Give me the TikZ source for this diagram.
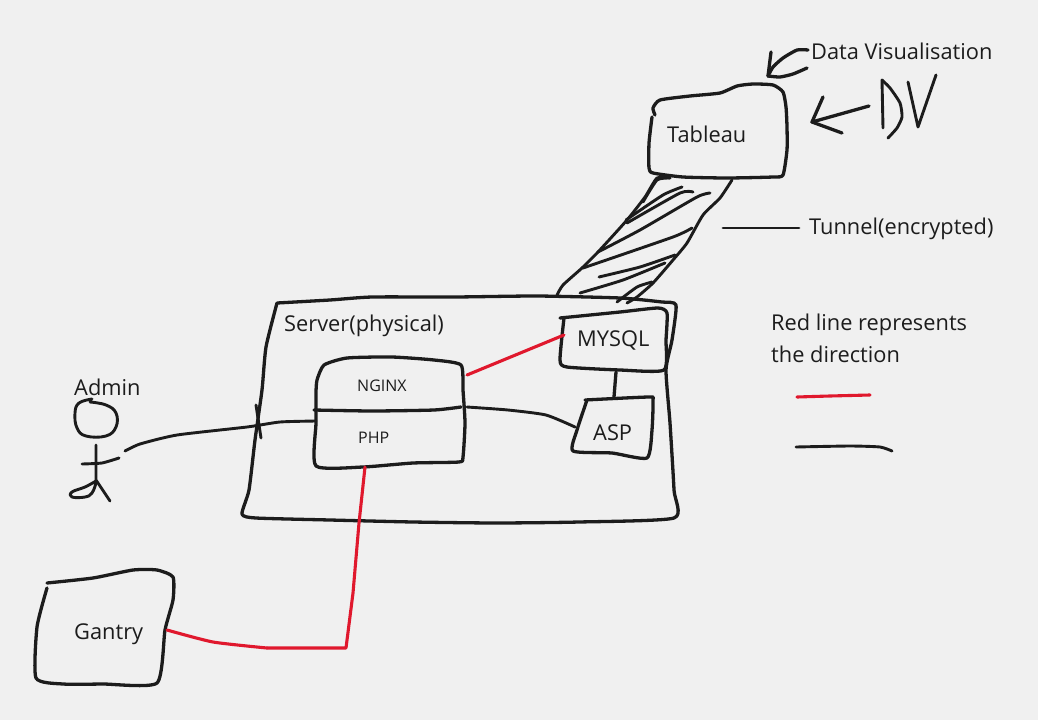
\documentclass[tikz,border=0pt]{standalone}
\usepackage{fontspec}
\setmainfont{Open Sans}
\definecolor{paper}{HTML}{F0F0F0}
\definecolor{ink}{HTML}{1C1C1C}
\definecolor{redink}{HTML}{E0182D}
\tikzset{
  pen/.style={draw=ink,line width=3.3pt,line cap=round,line join=round},
  thinpen/.style={draw=ink,line width=2.9pt,line cap=round,line join=round},
  redpen/.style={draw=redink,line width=3.1pt,line cap=round,line join=round},
  lab/.style={anchor=west,inner sep=0pt,text=ink,font=\fontsize{21.8}{24}\selectfont},
  smalllab/.style={anchor=west,inner sep=0pt,text=ink,font=\fontsize{16}{18}\selectfont},
  sm/.style={smooth,tension=0.35},
  round/.style={smooth,tension=0.7}
}
\begin{document}
\begin{tikzpicture}[x=1pt,y=-1pt]
\useasboundingbox[fill=paper] (0,0) rectangle (1038,720);
% connector end points
\coordinate (nginxE) at (467,375);
\coordinate (mysqlW) at (564,335);
\coordinate (nginxR) at (467,407);
\coordinate (aspW) at (575,427);
\coordinate (mysqlS) at (616,372);
\coordinate (aspN) at (614,397);
\coordinate (adminHand) at (125,451);
\coordinate (phpW) at (316,421);
\coordinate (phpS) at (365,467);
\coordinate (gantryE) at (167,630);
\coordinate (tunnelMark) at (723,228);
\coordinate (tunnelText) at (799,228);
\coordinate (dvTail) at (869,106);
\coordinate (dvTip) at (812,122);
\coordinate (visTail) at (808,50);
\coordinate (visTip) at (768,76);
% Tableau
\draw[pen] plot[sm] coordinates {(655,115) (653,108) (660,100) (690,96) (720,93) (737,86) (753,84) (773,85) (783,92) (786,107) (787,127) (787,150) (783,175) (773,177) (727,178) (683,177) (653,173) (649,168) (649,143) (652,117)};
\node[lab] (tableau) at (667,134) {Tableau};
% Data Visualisation arrow
\node[lab] (datavis) at (811,51) {Data Visualisation};
\draw[pen] plot[sm] coordinates {(visTail) (797,50) (783,58) (773,67) (visTip)};
\draw[pen] (771,52) -- (visTip);
\draw[pen] plot[sm] coordinates {(visTip) (780,77) (793,74) (807,68)};
% DV
\draw[pen] (dvTail) -- (dvTip);
\draw[pen] (823,97) -- (dvTip) -- (842,133);
\draw[thinpen] (882,80) -- (883,128);
\draw[thinpen] plot[sm] coordinates {(882,80) (890,88) (900,103) (902,117) (897,128) (888,138)};
\draw[thinpen] (908,82) -- (918,127) -- (936,75);
% Tunnel
\draw[thinpen] plot[sm] coordinates {(670,178) (657,178) (645,197) (627,220) (598,252) (582,268) (563,285) (557,295)};
\draw[thinpen] plot[sm] coordinates {(732,180) (720,198) (703,215) (687,243) (673,260) (653,283) (637,297) (627,303)};
\draw[thinpen] plot[sm] coordinates {(643,202) (657,180) (670,178)};
\draw[thinpen] plot[sm] coordinates {(682,187) (663,195) (626,220)};
\draw[thinpen] plot[sm] coordinates {(693,192) (680,193) (627,223)};
\draw[thinpen] plot[sm] coordinates {(710,193) (697,197) (640,230) (598,252)};
\draw[thinpen] plot[sm] coordinates {(692,228) (673,237) (583,268)};
\draw[thinpen] plot[sm] coordinates {(675,255) (640,267) (599,277)};
\draw[thinpen] plot[sm] coordinates {(652,282) (637,287) (617,302)};
\draw[thinpen] plot[sm] coordinates {(580,293) (623,280) (665,263)};
\draw[thinpen] (tunnelMark) -- (tunnelText);
\node[lab] (tunnel) at (809,229) {Tunnel(encrypted)};
% Server
\draw[pen] plot[sm] coordinates {(277,303) (330,300) (372,297) (455,297) (537,296) (620,298) (662,302) (676,305) (672,340) (666,370) (670,423) (674,490) (674,518) (579,522) (496,523) (413,522) (330,520) (256,518) (242,514) (249,490) (255,440) (262,390) (266,347) (277,303)};
\node[lab] (server) at (284,326) {Server(physical)};
% NGINX / PHP
\draw[pen] plot[sm] coordinates {(316,392) (317,380) (324,365) (347,358) (392,357) (434,360) (461,365) (463,390) (465,423) (463,457) (459,462) (413,463) (363,467) (316,466) (316,423) (316,392)};
\draw[pen] plot[sm] coordinates {(314,410) (372,411) (434,410) (461,407)};
\node[smalllab] (nginx) at (357,386) {NGINX};
\node[smalllab] (php) at (358,438) {PHP};
% MYSQL
\draw[pen] plot[sm] coordinates {(560,318) (620,312) (658,308) (667,313) (666,340) (664,370) (620,370) (567,367) (560,360) (564,318)};
\node[lab] (mysql) at (577,340) {MYSQL};
% ASP
\draw[pen] plot[sm] coordinates {(585,400) (649,397) (653,400) (652,430) (647,458) (612,453) (573,451) (577,430) (587,400)};
\node[lab] (asp) at (593,433) {ASP};
% connectors inside the server
\draw[redpen] (nginxE) -- (mysqlW);
\draw[pen] (mysqlS) -- (aspN);
\draw[thinpen] plot[sm] coordinates {(nginxR) (508,410) (546,415) (aspW)};
\draw[thinpen] plot[sm] coordinates {(adminHand) (140,444) (177,435) (247,427) (280,422) (phpW)};
\draw[thinpen] (256,405) -- (261,438);
% Admin
\node[lab] (admin) at (74,387) {Admin};
\draw[thinpen] plot[round] coordinates {(92,399) (79,403) (75,413) (77,428) (86,436) (106,436) (116,427) (116,413) (106,405) (90,402)};
\draw[thinpen] (96,445) -- (96,480) -- (110,501);
\draw[thinpen] plot[sm] coordinates {(82,464) (102,463) (119,458)};
\draw[thinpen] plot[round] coordinates {(96,481) (85,487) (72,492) (72,497) (85,497) (92,493) (96,483)};
% Gantry
\draw[pen] plot[sm] coordinates {(47,583) (93,578) (133,570) (157,570) (173,577) (173,600) (165,630) (157,683) (103,684) (63,684) (36,678) (37,627) (47,588)};
\node[lab] (gantry) at (74,634) {Gantry};
\draw[redpen] plot[sm] coordinates {(gantryE) (213,642) (267,648)};
\draw[redpen] (267,648) -- (346,648) -- (353,593) -- (359,523) -- (phpS);
% Legend
\node[lab] (legendA) at (771,325) {Red line represents};
\node[lab] (legendB) at (771,354) {the direction};
\draw[redpen] plot[sm] coordinates {(797,397) (830,396) (870,395)};
\draw[thinpen] plot[sm] coordinates {(796,447) (850,446) (880,447) (892,451)};
\end{tikzpicture}
\end{document}
